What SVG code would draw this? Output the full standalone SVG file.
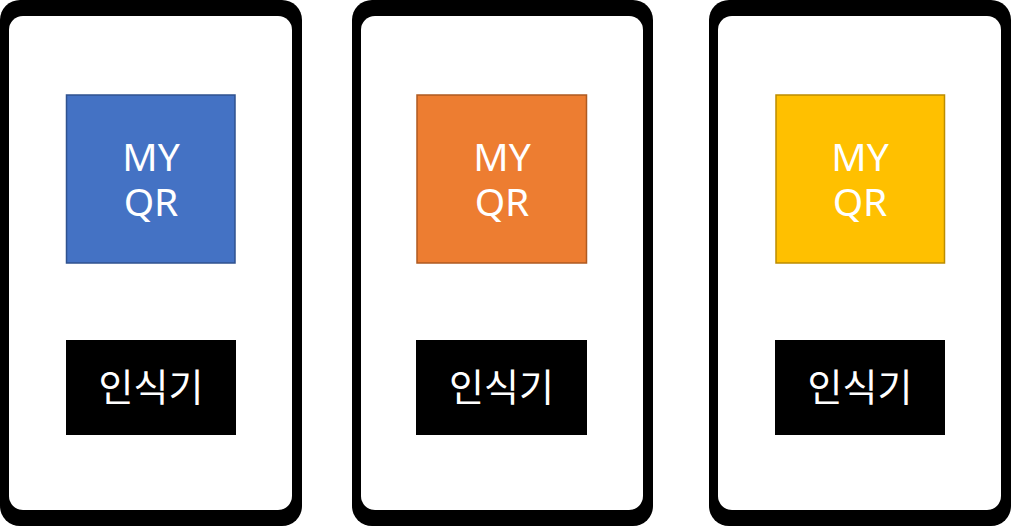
<svg xmlns="http://www.w3.org/2000/svg" width="1011" height="526" viewBox="0 0 1011 526">
<style>
.frame{fill:#000}
.screen{fill:#fff}
.qr{stroke-width:1.5}
.lbl{fill:#fff;font-family:"Noto Sans CJK KR","Noto Sans",sans-serif;font-size:38px;text-anchor:middle}
.my{font-family:"Noto Sans","Noto Sans CJK KR",sans-serif;font-size:39px}
</style>
<rect width="1011" height="526" fill="#fff"/>
<g id="phone1">
<rect class="frame" x="0" y="0" width="302" height="526" rx="20"/>
<rect class="screen" x="9" y="16" width="283" height="494" rx="14"/>
<g id="qr1"><rect class="qr" x="66.5" y="95" width="168.5" height="168" fill="#4472C4" stroke="#2F528F"/>
<text class="lbl my" x="151" y="171">MY<tspan x="151" y="216">QR</tspan></text></g>
<g id="reader1"><rect x="66" y="340" width="170" height="95" fill="#000"/>
<text class="lbl" x="151" y="401">인식기</text></g>
</g>
<g id="phone2">
<rect class="frame" x="352" y="0" width="301" height="526" rx="20"/>
<rect class="screen" x="361" y="16" width="282" height="494" rx="14"/>
<g id="qr2"><rect class="qr" x="417" y="95" width="169.5" height="168" fill="#ED7D31" stroke="#AE5A21"/>
<text class="lbl my" x="502" y="171">MY<tspan x="502" y="216">QR</tspan></text></g>
<g id="reader2"><rect x="416" y="340" width="171" height="95" fill="#000"/>
<text class="lbl" x="501.5" y="401">인식기</text></g>
</g>
<g id="phone3">
<rect class="frame" x="709" y="0" width="302" height="526" rx="20"/>
<rect class="screen" x="718" y="16" width="283" height="494" rx="14"/>
<g id="qr3"><rect class="qr" x="776" y="95" width="168.5" height="168" fill="#FFC000" stroke="#BC8C00"/>
<text class="lbl my" x="860" y="171">MY<tspan x="860" y="216">QR</tspan></text></g>
<g id="reader3"><rect x="775" y="340" width="170" height="95" fill="#000"/>
<text class="lbl" x="860" y="401">인식기</text></g>
</g>
<g id="connectors"/>
</svg>
